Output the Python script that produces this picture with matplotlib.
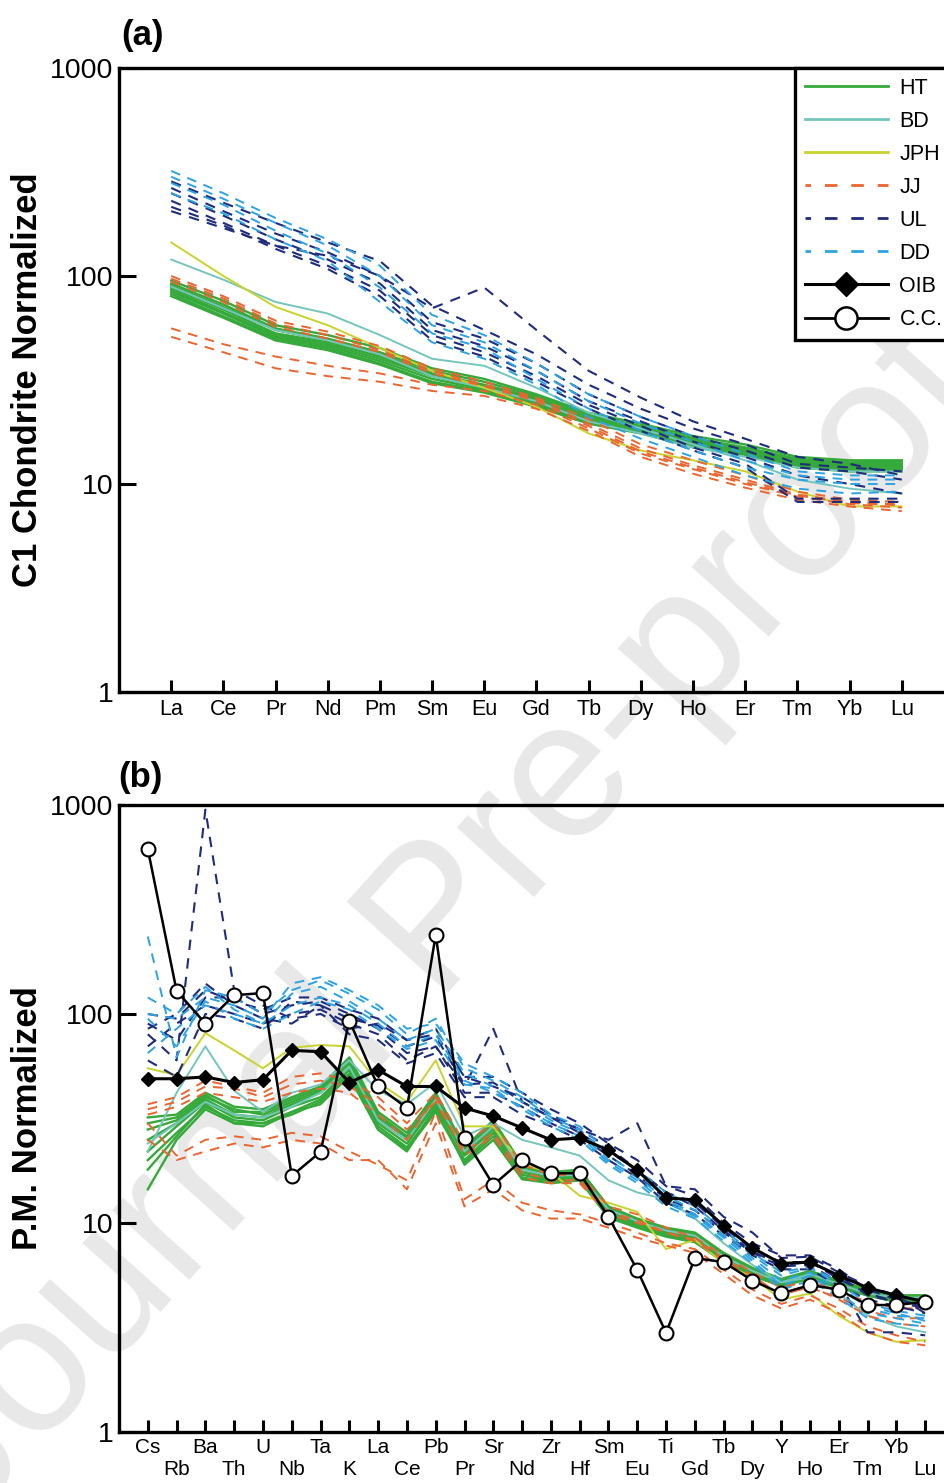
import matplotlib.pyplot as plt
from matplotlib.lines import Line2D
from matplotlib.ticker import NullLocator

plt.rcParams['font.family'] = ['Liberation Sans', 'DejaVu Sans']

# element order on the two x axes
ree = ['La', 'Ce', 'Pr', 'Nd', 'Pm', 'Sm', 'Eu', 'Gd', 'Tb', 'Dy', 'Ho', 'Er', 'Tm', 'Yb', 'Lu']
spider = ['Cs', 'Rb', 'Ba', 'Th', 'U', 'Nb', 'Ta', 'K', 'La', 'Ce', 'Pb', 'Pr', 'Sr', 'Nd',
          'Zr', 'Hf', 'Sm', 'Eu', 'Ti', 'Gd', 'Tb', 'Dy', 'Y', 'Ho', 'Er', 'Tm', 'Yb', 'Lu']

# ---- chondrite normalized REE ----
ht_ree = [
    [95, 76, 58, 52, 45, 36, 32, 27, 22, 19.5, 17, 15.5, 13.5, 13, 13],
    [92, 73, 56, 50, 43, 35, 31, 26.5, 21.5, 19, 16.6, 15, 13.2, 12.7, 12.8],
    [90, 71, 55, 49, 42, 34, 30, 26, 21, 18.7, 16.3, 14.8, 13, 12.5, 12.5],
    [88, 69, 53, 48, 41, 33.5, 29.5, 25.5, 21, 18.5, 16, 14.6, 12.8, 12.3, 12.3],
    [86, 67, 52, 47, 40, 33, 29, 25, 20.5, 18.2, 15.8, 14.4, 12.6, 12.1, 12.1],
    [84, 66, 51, 46, 39, 32, 28.5, 24.5, 20, 18, 15.5, 14.2, 12.4, 11.9, 11.8],
    [82, 64, 50, 45, 38, 31, 28, 24, 19.7, 17.7, 15.3, 14, 12.2, 11.7, 11.6],
    [80, 63, 49, 44, 37.5, 30.5, 27.5, 23.5, 19.5, 17.5, 15, 13.8, 12, 11.5, 11.5],
]
bd_ree = [
    [120, 96, 75, 66, 52, 40, 37, 29, 22, 18.5, 15.5, 13, 10.5, 9.5, 9],
    [89, 70, 55, 49, 42, 33, 29, 25, 20, 17.5, 15, 13.5, 12, 11.5, 11.5],
]
jph_ree = [
    [145, 100, 71, 58, 45, 35, 29, 23.5, 17.5, 14.5, 13, 11.5, 9.2, 7.8, 7.8],
]
jj_ree = [
    [100, 80, 61, 54, 46, 36, 31, 26, 20.5, 15.5, 13, 11, 9.2, 8.4, 8.2],
    [97, 78, 59, 52, 44, 35, 30, 25.5, 19.5, 14.8, 12.3, 10.5, 8.9, 8.2, 8],
    [94, 75, 57, 50, 43, 34, 29.5, 25, 19, 14.3, 12, 10.2, 8.8, 8.1, 7.9],
    [56, 47, 41, 37, 34, 30, 28, 24, 18.5, 14, 11.8, 10, 8.7, 8, 7.7],
    [51, 43, 36, 33, 31, 28, 26.5, 23, 18, 13.5, 11.2, 9.6, 8.4, 7.8, 7.4],
]
ul_ree = [
    [205, 170, 140, 125, 100, 70, 88, 55, 35, 26, 20, 16.5, 13.5, 12.5, 11],
    [285, 225, 180, 145, 118, 72, 55, 42, 30, 23, 18.5, 15.5, 12.5, 12, 11.5],
    [265, 205, 160, 130, 100, 60, 50, 38, 27, 21, 17, 14.5, 12, 11.5, 10.5],
    [250, 195, 150, 120, 92, 55, 46, 35, 25, 20, 16, 13.5, 11, 10, 9],
    [230, 180, 140, 112, 85, 52, 43, 33, 24, 19, 15, 12.5, 8.5, 8.5, 8.5],
    [215, 175, 135, 108, 80, 49, 41, 31, 23, 18, 14.5, 12, 8.2, 8.2, 8.2],
]
dd_ree = [
    [320, 250, 190, 150, 112, 65, 52, 38, 27, 21, 17, 14, 11.5, 11, 11],
    [300, 235, 180, 140, 100, 58, 48, 35, 25, 19.5, 16, 13, 11, 10.5, 10.5],
    [280, 220, 165, 128, 88, 53, 45, 32, 23, 18, 14.5, 12, 10.5, 10, 10],
    [250, 200, 150, 118, 75, 48, 40, 30, 21, 16.5, 13.5, 11, 9.5, 9, 9.2],
]

# ---- primitive mantle normalized trace elements ----
ht_pm = [
    [32, 33, 42, 36, 35, 40, 45, 62, 34, 27, 42, 23, 31, 19, 17.5, 18, 12, 10.5, 9.5, 9, 7.2, 6.1, 5.4, 5.9, 5.3, 4.8, 4.5, 4.5],
    [30, 32, 41, 34, 34, 39, 44, 60, 32, 25.5, 41, 22.5, 30, 18.8, 17.2, 17.6, 11.9, 10.4, 9.4, 8.9, 7.1, 6.0, 5.3, 5.8, 5.2, 4.8, 4.5, 4.5],
    [28, 31, 40, 35, 33, 38, 43, 58, 33, 26, 40, 22, 30, 18.5, 17, 17.5, 11.8, 10.3, 9.3, 8.8, 7.0, 6.0, 5.3, 5.8, 5.2, 4.7, 4.4, 4.4],
    [25, 30, 39, 33, 32, 37, 42, 56, 31, 25, 38, 21.5, 29, 18, 16.5, 17, 11.5, 10.1, 9.1, 8.6, 6.9, 5.9, 5.2, 5.7, 5.1, 4.7, 4.4, 4.4],
    [22, 29, 38, 32, 31, 36, 40, 54, 30, 24, 37, 21, 28, 17.5, 16.2, 16.8, 11.3, 10, 9, 8.5, 6.8, 5.8, 5.2, 5.6, 5.1, 4.6, 4.3, 4.3],
    [20, 27, 36, 31, 30, 34, 39, 52, 29, 23, 35, 20, 27, 17, 16, 16.5, 11, 9.8, 8.8, 8.3, 6.7, 5.7, 5.1, 5.5, 5.0, 4.6, 4.3, 4.3],
    [18, 26, 37, 30, 30, 33, 38, 50, 28, 22.5, 34, 19.5, 26, 16.5, 15.8, 16.2, 10.8, 9.6, 8.7, 8.2, 6.6, 5.6, 5.0, 5.5, 5.0, 4.5, 4.2, 4.2],
    [14.5, 25, 35, 30, 29, 34, 37, 51, 28, 22, 36, 19, 25, 16.2, 15.5, 16, 10.6, 9.5, 8.6, 8.1, 6.5, 5.6, 5.0, 5.4, 4.9, 4.5, 4.2, 4.2],
]
bd_pm = [
    [22, 42, 70, 43, 34, 42, 46, 60, 43, 37, 47, 26, 30, 25, 23, 21, 16, 14, 13, 10.5, 8, 6.3, 5.2, 5.5, 4.6, 3.6, 3.2, 3.0],
    [24, 30, 38, 33, 32, 36, 42, 56, 31, 25, 39, 22, 29, 18, 16.8, 17, 11.6, 10.2, 9.2, 8.7, 6.9, 5.9, 5.2, 5.7, 5.1, 4.6, 4.4, 4.4],
]
jph_pm = [
    [55, 51, 81, 67, 55, 69, 71, 70, 47, 38, 60, 29, 29, 19, 17.5, 13.5, 12.5, 11.3, 7.5, 8.3, 6.4, 5.5, 4.3, 4.6, 3.6, 3.0, 2.7, 2.75],
]
jj_pm = [
    [37, 40, 48, 45, 42, 50, 52, 48, 40, 30, 42, 24, 30, 19, 17, 17, 12, 11, 9.5, 8.5, 7, 5.8, 4.9, 5.3, 4.7, 4.2, 3.9, 3.9],
    [35, 38, 45, 44, 40, 46, 48, 45, 37, 28, 38, 22, 27, 17.5, 16, 16, 11.3, 10.3, 9, 8.2, 6.6, 5.4, 4.6, 4.9, 4.4, 3.8, 3.5, 3.5],
    [33, 36, 42, 40, 38, 42, 44, 42, 33, 25, 40, 21, 26, 16.5, 15.5, 15.5, 11, 10, 9, 8.3, 6.8, 5.6, 4.5, 5.0, 4.3, 3.6, 3.3, 3.2],
    [30, 21, 25, 26, 25, 27, 26, 22, 19, 16, 34, 13, 16, 12.5, 11.5, 11, 10, 9, 8, 7.5, 6, 4.8, 4.1, 4.5, 3.9, 3.2, 2.9, 2.7],
    [25, 20, 22, 24, 23, 25, 24, 20, 20, 14.5, 30, 12, 14.5, 11.5, 10.5, 10.5, 9.5, 8.5, 7.8, 7.2, 5.7, 4.5, 3.9, 4.3, 3.7, 3.0, 2.7, 2.6],
]
ul_pm = [
    [80, 60, 950, 130, 110, 95, 100, 85, 90, 75, 80, 50, 45, 40, 33, 28, 23, 18, 14, 12.5, 9.5, 7.5, 6.5, 6.5, 5.6, 4.5, 4.2, 4.0],
    [90, 75, 120, 120, 100, 110, 115, 100, 85, 65, 70, 45, 85, 38, 32, 28, 25, 30, 15, 14.5, 10.7, 9, 6.8, 6.9, 5.8, 5.0, 4.5, 3.7],
    [100, 95, 130, 115, 105, 120, 120, 105, 95, 75, 85, 50, 50, 42, 35, 30, 24, 20, 15, 13.5, 10, 8, 7, 7, 6, 4.8, 4.3, 4.0],
    [70, 90, 110, 100, 90, 100, 105, 90, 80, 60, 70, 42, 42, 36, 30, 26, 21, 17, 13, 11.5, 9, 7.2, 6.2, 6.3, 5.2, 3.0, 3.0, 2.9],
    [85, 100, 140, 110, 95, 90, 110, 95, 88, 70, 78, 46, 47, 38, 32, 27, 22, 18, 14, 12, 9.2, 7.3, 6.3, 6.5, 5.4, 4.6, 4.2, 3.9],
    [60, 50, 100, 95, 85, 115, 110, 80, 75, 58, 65, 40, 40, 33, 29, 25, 20, 16.5, 12.5, 11, 8.7, 7, 6, 6, 5.0, 4.3, 4.0, 3.7],
]
dd_pm = [
    [235, 62, 130, 120, 100, 130, 145, 125, 105, 80, 95, 55, 48, 40, 32, 28, 21, 17, 13.5, 11.5, 9, 7, 5.6, 6.1, 5.1, 3.9, 3.6, 3.5],
    [100, 95, 120, 110, 95, 140, 150, 130, 110, 85, 90, 58, 50, 42, 33, 29, 22, 18, 14, 12, 9.3, 7.2, 5.8, 6.2, 5.2, 4.1, 3.8, 3.6],
    [120, 100, 135, 105, 90, 125, 135, 115, 95, 75, 85, 52, 45, 38, 31, 27, 20, 16.5, 13, 11, 8.7, 6.8, 5.3, 5.8, 4.8, 4.0, 3.7, 3.4],
    [65, 85, 110, 100, 90, 110, 120, 110, 90, 70, 80, 48, 42, 36, 30, 26, 19.5, 16, 12.5, 10.8, 8.5, 6.6, 5.0, 5.6, 4.6, 3.7, 3.5, 3.3],
    [95, 70, 115, 95, 85, 100, 115, 105, 85, 68, 75, 46, 44, 35, 29, 25, 19, 15.5, 12, 10.5, 8.2, 6.4, 4.8, 5.3, 4.4, 3.5, 3.3, 3.2],
]
oib_pm = [49, 49, 50, 47, 48.5, 67, 66, 47, 54, 45, 45, 35.5, 32.5, 28.5, 25, 25.5, 22.3, 17.9, 13.2, 12.9,
          9.7, 7.6, 6.4, 6.5, 5.6, 4.9, 4.5, 4.2]
cc_pm = [616, 129, 90, 123, 126, 16.8, 21.9, 93, 45, 35.5, 239, 25.5, 15.2, 20, 17.3, 17.3, 10.7, 5.96, 2.98,
         6.8, 6.5, 5.3, 4.6, 5.05, 4.8, 4.05, 4.05, 4.2]

groups = ['HT', 'BD', 'JPH', 'JJ', 'UL', 'DD']
colors = {'HT': '#35a93a', 'BD': '#74c6bc', 'JPH': '#c9d32c',
          'JJ': '#ea6530', 'UL': '#1f2c7c', 'DD': '#2ca3e2'}
dashed = {'HT': False, 'BD': False, 'JPH': False, 'JJ': True, 'UL': True, 'DD': True}
widths = {'HT': 1.7, 'BD': 1.4, 'JPH': 1.4, 'JJ': 1.4, 'UL': 1.5, 'DD': 1.4}

fig = plt.figure(figsize=(9.45, 14.83), dpi=100)
W, H = 945, 1483
ax1 = fig.add_axes([119 / W, 1 - 692 / H, 835 / W, 624 / H], facecolor='none')
ax2 = fig.add_axes([119 / W, 1 - 1432 / H, 835 / W, 627 / H], facecolor='none')

# watermark behind both panels
fig.text(440 / W, 1 - 925 / H, 'Journal Pre-proof', fontsize=142, color='#e8e8e8',
         rotation=48, rotation_mode='anchor', ha='center', va='center', zorder=-1)


def draw_group(ax, rows, name):
    x = range(1, len(rows[0]) + 1)
    ls = (0, (5, 4)) if dashed[name] else '-'
    for r in rows:
        ax.plot(x, r, color=colors[name], lw=widths[name], ls=ls, zorder=2)


for name, rows in zip(groups, [ht_ree, bd_ree, jph_ree, jj_ree, ul_ree, dd_ree]):
    draw_group(ax1, rows, name)
for name, rows in zip(groups, [ht_pm, bd_pm, jph_pm, jj_pm, ul_pm, dd_pm]):
    draw_group(ax2, rows, name)

xs = range(1, len(spider) + 1)
ax2.plot(xs, oib_pm, color='black', lw=2.2, marker='D', ms=7, mfc='black', mec='black', zorder=4)
ax2.plot(xs, cc_pm, color='black', lw=1.8, marker='o', ms=10, mfc='white', mec='black', mew=1.5, zorder=5)

for ax in (ax1, ax2):
    ax.set_yscale('log')
    ax.set_ylim(1, 1000)
    ax.set_yticks([1, 10, 100, 1000])
    ax.set_yticklabels(['1', '10', '100', '1000'])
    ax.yaxis.set_minor_locator(NullLocator())
    ax.tick_params(axis='y', direction='in', length=12, width=2.2, labelsize=20.5, pad=4)
    ax.tick_params(axis='x', which='both', direction='in', length=9, width=2.2, labelsize=15.5)
    for s in ax.spines.values():
        s.set_linewidth(2.4)
    ax.yaxis.set_label_coords(-0.09, 0.5)

ax1.set_xlim(0, len(ree) + 1)
ax1.set_xticks(range(1, len(ree) + 1))
ax1.set_xticklabels(ree)
ax1.tick_params(axis='x', pad=5)
ax1.set_ylabel('C1 Chondrite Normalized', fontsize=25, fontweight='bold')

ax2.set_xlim(0, len(spider) + 1)
ax2.set_xticks(list(xs)[0::2])
ax2.set_xticklabels(spider[0::2])
ax2.set_xticks(list(xs)[1::2], minor=True)
ax2.set_xticklabels(spider[1::2], minor=True)
ax2.tick_params(axis='x', which='major', pad=4.5, labelsize=15)
ax2.tick_params(axis='x', which='minor', pad=20.5, labelsize=15)
ax2.set_ylabel('P.M. Normalized', fontsize=25, fontweight='bold')

fig.text(121 / W, 1 - 35 / H, '(a)', fontsize=25, fontweight='bold', ha='left', va='center')
fig.text(118 / W, 1 - 777 / H, '(b)', fontsize=25, fontweight='bold', ha='left', va='center')

handles = []
for name in groups:
    ls = (2.5, (4.5, 5)) if dashed[name] else '-'
    handles.append(Line2D([], [], color=colors[name], lw=2.0, ls=ls))
handles.append(Line2D([], [], color='black', lw=2.2, marker='D', ms=12, mfc='black'))
handles.append(Line2D([], [], color='black', lw=2.0, marker='o', ms=16, mfc='white', mew=1.8))
leg = ax1.legend(handles, groups + ['OIB', 'C.C.'], loc='upper left',
                 bbox_to_anchor=((795 - 119) / 835, 1.0), borderaxespad=0, fontsize=15.5,
                 handlelength=3.85, handletextpad=0.55, labelspacing=0.56, borderpad=0.45,
                 fancybox=False, framealpha=1, edgecolor='black')
leg.get_frame().set_linewidth(2.4)

fig.savefig('out.png', dpi=100)
